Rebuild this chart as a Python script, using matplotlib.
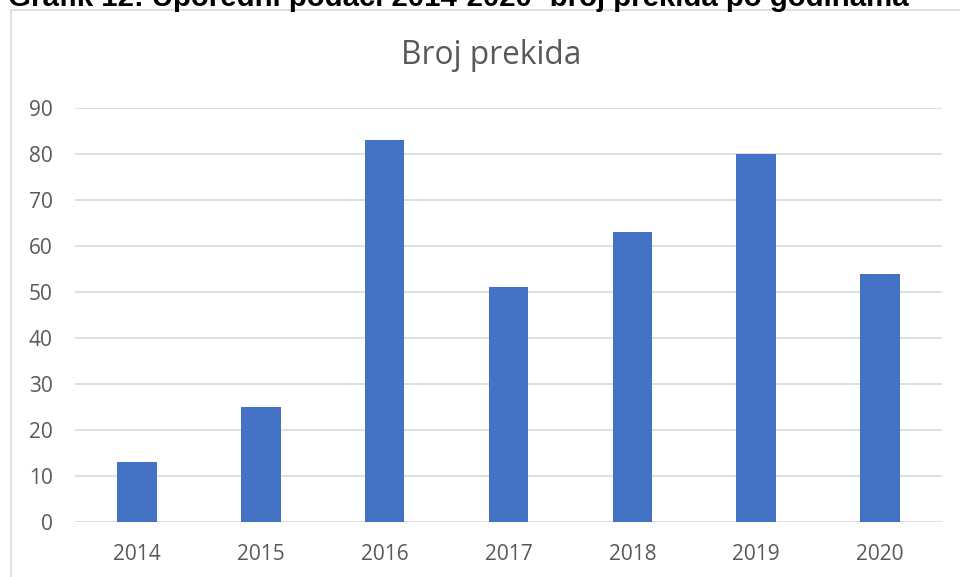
import matplotlib.pyplot as plt
from matplotlib.patches import Rectangle

godine = ['2014', '2015', '2016', '2017', '2018', '2019', '2020']
prekidi = [13, 25, 83, 51, 63, 80, 54]
y_ticks = [0, 10, 20, 30, 40, 50, 60, 70, 80, 90]

W, H = 960, 577
fig = plt.figure(figsize=(W / 100, H / 100), dpi=100)

# okvir grafikona
fig.patches.append(Rectangle((11 / W, -0.01), 1.0, 1 - 9.5 / H + 0.01, transform=fig.transFigure,
                             fill=False, edgecolor='#d9d9d9', linewidth=1.2))

# naslov iznad (odrezan na vrhu u originalu)
fig.text(8 / W, 1 - 5.5 / H, 'Grafik 12: Uporedni podaci 2014-2020- broj prekida po godinama',
         fontsize=21.2, fontweight='bold', family='Liberation Sans', ha='left', va='baseline', color='black')

ax = fig.add_axes([75 / W, 1 - 522 / H, (942 - 75) / W, (522 - 108) / H])
x = list(range(len(godine)))
ax.bar(x, prekidi, width=0.32, color='#4472c4', zorder=3)
ax.set_xlim(-0.5, len(godine) - 0.5)
ax.set_ylim(0, 90)
ax.set_yticks(y_ticks)
ax.set_xticks(x)
ax.set_xticklabels(godine)
ax.grid(axis='y', color='#d9d9d9', linewidth=1.2, zorder=0)
for s in ax.spines.values():
    s.set_visible(False)
ax.tick_params(length=0, labelcolor='#595959', pad=16)
ax.tick_params(axis='x', pad=16)
for lab in ax.get_xticklabels() + ax.get_yticklabels():
    lab.set_family('Open Sans')
    lab.set_fontsize(15)

fig.text(491 / W, 1 - 55 / H, 'Broj prekida', fontsize=22.8, color='#595959',
         ha='center', va='center', family='Open Sans')

fig.savefig('out.png', dpi=100)
